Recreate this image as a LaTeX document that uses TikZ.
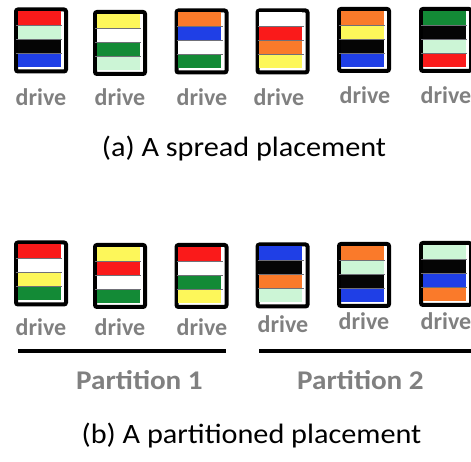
\documentclass[tikz,border=0pt]{standalone}
\usepackage{fontspec}
\setmainfont{Carlito}
\newfontfamily\widefont{Carlito}[FakeStretch=1.08]
\definecolor{cred}{HTML}{FA1A1A}
\definecolor{clgreen}{HTML}{CCF5D6}
\definecolor{cblack}{HTML}{050505}
\definecolor{cblue}{HTML}{1F3FE6}
\definecolor{cyellow}{HTML}{FDF75A}
\definecolor{cgreen}{HTML}{138A36}
\definecolor{corange}{HTML}{FA7A2A}
\definecolor{labelgray}{HTML}{808080}
\definecolor{sepgray}{HTML}{707078}

\tikzset{
  x=1pt, y=1pt,
  drivebox/.style={draw=black, line width=4pt, rounded corners=2pt,
    minimum width=50pt, minimum height=62pt, inner sep=0pt, fill=white},
  slotsep/.style={draw=sepgray, line width=0.6pt},
  drivelabel/.style={font=\fontsize{24}{24}\selectfont\bfseries,
    text=labelgray, anchor=base, inner sep=0pt},
  partlabel/.style={font=\widefont\fontsize{27}{27}\selectfont\bfseries,
    text=labelgray, anchor=base, inner sep=0pt},
  caption/.style={font=\widefont\fontsize{28}{28}\selectfont, anchor=base, inner sep=0pt},
  partline/.style={draw=black, line width=4pt},
}

% A drive: name, x, y, four slot colours (top to bottom), label x, label baseline
\newcommand\drivestack[7]{%
  \node[drivebox] (#1) at (#2,#3) {};
  \foreach \c [count=\i from 0] in {#4} {
    \fill[\c] ([xshift=3.5pt, yshift={-4pt-\i*14pt}]#1.north west)
      rectangle ++(43pt,-14pt);
  }
  \foreach \k in {1,2,3} {
    \draw[slotsep] ([xshift=2pt, yshift={-4pt-\k*14pt}]#1.north west)
      -- ++(46pt,0);
  }
  \node[drivelabel] (#1lbl) at (#5,#6) {drive};
}

\begin{document}
\begin{tikzpicture}
  \useasboundingbox (0,0) rectangle (471,462);

  % (a) spread placement
  \drivestack{a1}{41}{421.5}{cred,clgreen,cblack,cblue}{41}{356}{}
  \drivestack{a2}{120}{419}{cyellow,white,cgreen,clgreen}{120}{356}{}
  \drivestack{a3}{201.5}{420.5}{corange,cblue,white,cgreen}{202}{356}{}
  \drivestack{a4}{282.5}{420.5}{white,cred,corange,cyellow}{279}{356}{}
  \drivestack{a5}{364}{422}{corange,cyellow,cblack,cblue}{365}{358}{}
  \drivestack{a6}{446}{422}{cgreen,cblack,clgreen,cred}{446}{358}{}
  \node[caption] (capa) at (244,305) {(a) A spread placement};

  % (b) partitioned placement
  \drivestack{b1}{41}{188.5}{cred,white,cyellow,cgreen}{41}{126}{}
  \drivestack{b2}{120}{186}{cyellow,cred,white,cgreen}{120}{126}{}
  \drivestack{b3}{201.5}{186}{cred,white,cgreen,cyellow}{202}{126}{}
  \drivestack{b4}{282.5}{186.5}{cblue,cblack,corange,clgreen}{283}{129}{}
  \drivestack{b5}{364}{187}{corange,clgreen,cblack,cblue}{364}{132}{}
  \drivestack{b6}{446}{188}{clgreen,cblack,cblue,corange}{446}{132}{}

  \coordinate (p1s) at (18,111);
  \coordinate (p1e) at (226,111);
  \coordinate (p2s) at (259,111);
  \coordinate (p2e) at (471,111);
  \draw[partline] (p1s) -- (p1e);
  \draw[partline] (p2s) -- (p2e);
  \node[partlabel] (part1) at (139.5,72) {Partition 1};
  \node[partlabel] (part2) at (360.5,72) {Partition 2};

  \node[caption] (capb) at (251.5,18) {(b) A partitioned placement};
\end{tikzpicture}
\end{document}
